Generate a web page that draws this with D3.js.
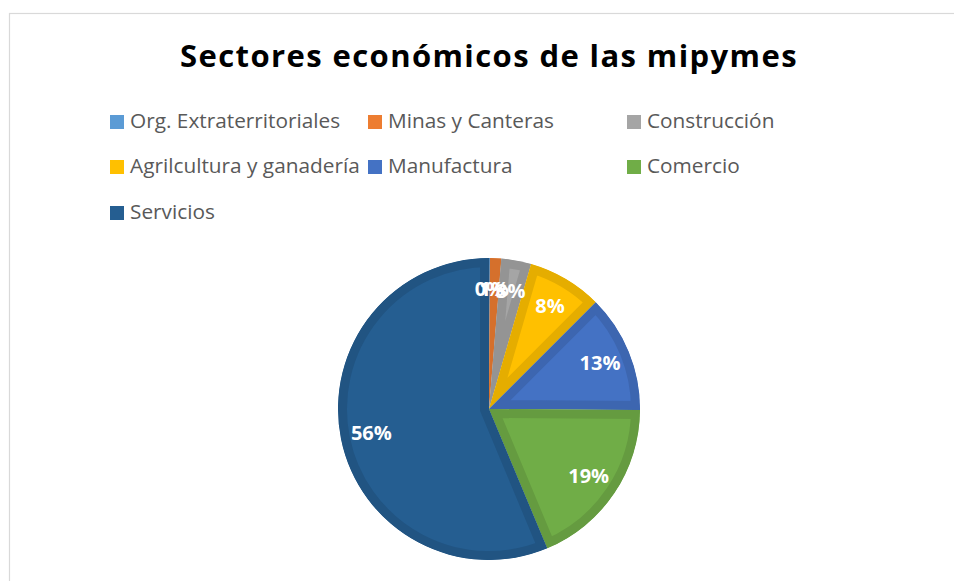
<!DOCTYPE html>
<html>
<head>
<meta charset="utf-8">
<script src="https://cdn.jsdelivr.net/npm/d3@7"></script>
<style>
  html, body { margin: 0; padding: 0; background: #ffffff; }
  svg { display: block; }
</style>
</head>
<body>
<svg id="chart" width="954" height="581"></svg>
<script>
// Sector names, shares (%) and slice colours
const sectors = ["Org. Extraterritoriales", "Minas y Canteras", "Construcción",
                 "Agrilcultura y ganadería", "Manufactura", "Comercio", "Servicios"];
const shares = [0.1, 1.2, 3.2, 8.0, 12.6, 18.6, 56.3];
const colors = ["#5b9bd5", "#ed7d31", "#a5a5a5", "#ffc000", "#4472c4", "#70ad47", "#255e91"];
const title = "Sectores económicos de las mipymes";

const W = 954, H = 581;
const svg = d3.select("#chart");

// chart area frame
svg.append("rect")
  .attr("x", 9.5).attr("y", 13.5)
  .attr("width", W + 10).attr("height", H + 10)
  .attr("fill", "#ffffff")
  .attr("stroke", "#d9d9d9").attr("stroke-width", 1.2);

// title
svg.append("text")
  .attr("x", 489).attr("y", 67)
  .attr("text-anchor", "middle")
  .attr("font-family", "'Open Sans', sans-serif")
  .attr("font-weight", 700)
  .attr("font-size", 31)
  .attr("letter-spacing", 1.4)
  .attr("fill", "#000000")
  .text(title);

// legend: three columns, filled row by row
const legend = svg.append("g");
const colX = [110, 368, 627], rowY = [115, 160, 206];
const item = legend.selectAll("g.item")
  .data(sectors)
  .join("g")
  .attr("class", "item")
  .attr("transform", (d, i) => `translate(${colX[i % 3]},${rowY[Math.floor(i / 3)]})`);
item.append("rect")
  .attr("width", 14).attr("height", 14)
  .attr("fill", (d, i) => colors[i]);
item.append("text")
  .attr("x", 20).attr("y", 13)
  .attr("font-family", "'Open Sans', sans-serif")
  .attr("font-size", 20.8)
  .attr("fill", "#595959")
  .text(d => d);

// pie
const cx = 489, cy = 409, R = 151, band = 9;
const pie = d3.pie().sort(null).value(d => d);
const arcs = pie(shares);
const arc = d3.arc().innerRadius(0).outerRadius(R);
const labelArc = d3.arc().innerRadius(120).outerRadius(120);

const g = svg.append("g").attr("transform", `translate(${cx},${cy})`);
const defs = svg.append("defs");
arcs.forEach((a, i) => {
  defs.append("clipPath").attr("id", "slice" + i)
    .append("path").attr("d", arc(a));
});

g.selectAll("path.slice")
  .data(arcs)
  .join("path")
  .attr("class", "slice")
  .attr("d", arc)
  .attr("clip-path", (d, i) => `url(#slice${i})`)
  .attr("fill", (d, i) => colors[i])
  .attr("stroke", (d, i) => d3.color(colors[i]).darker(0.3))
  .attr("stroke-width", band * 2)
  .attr("stroke-linejoin", "miter");

// percentage labels
g.selectAll("text.pct")
  .data(arcs)
  .join("text")
  .attr("class", "pct")
  .attr("transform", d => `translate(${labelArc.centroid(d)})`)
  .attr("text-anchor", "middle")
  .attr("dy", "0.35em")
  .attr("font-family", "'Open Sans', sans-serif")
  .attr("font-weight", 700)
  .attr("font-size", 20)
  .attr("fill", "#ffffff")
  .text(d => Math.round(d.value) + "%");
</script>
</body>
</html>
